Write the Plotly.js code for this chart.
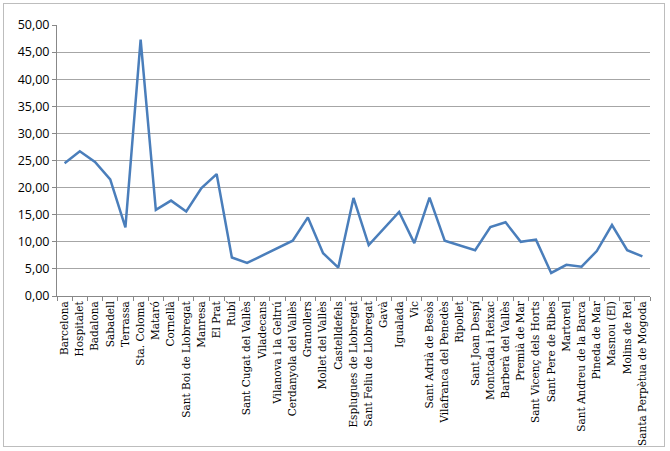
<!DOCTYPE html>
<html><head><meta charset="utf-8">
<script src="https://cdn.plot.ly/plotly-3.0.1.min.js"></script>
<style>
html,body{margin:0;padding:0;background:#fff;}
#frame{position:absolute;left:3px;top:3px;width:662px;height:444px;border:1px solid #bdbdbd;box-sizing:border-box;pointer-events:none;z-index:10;}
#chart{position:absolute;left:0;top:0;width:670px;height:451px;}
</style></head>
<body>
<div id="chart"></div>
<div id="frame"></div>
<script>
const municipis = ["Barcelona","Hospitalet","Badalona","Sabadell","Terrassa","Sta. Coloma","Mataró","Cornellà","Sant Boi de Llobregat","Manresa","El Prat","Rubí","Sant Cugat del Vallès","Viladecans","Vilanova i la Geltrú","Cerdanyola del Vallès","Granollers","Mollet del Vallès","Castelldefels","Esplugues de Llobregat","Sant Feliu de Llobregat","Gavà","Igualada","Vic","Sant Adrià de Besòs","Vilafranca del Penedès","Ripollet","Sant Joan Despí","Montcada i Reixac","Barberà del Vallès","Premià de Mar","Sant Vicenç dels Horts","Sant Pere de Ribes","Martorell","Sant Andreu de la Barca","Pineda de Mar","Masnou (El)","Molins de Rei","Santa Perpètua de Mogoda"];
const valors = [24.5,26.7,24.75,21.5,12.65,47.3,15.9,17.6,15.6,19.9,22.5,7.1,6.1,7.5,8.8,10.2,14.5,7.9,5.25,18.1,9.4,12.5,15.5,9.75,18.15,10.2,9.3,8.45,12.7,13.6,10.0,10.4,4.25,5.75,5.4,8.3,13.1,8.45,7.3];
const yTicks = [0,5,10,15,20,25,30,35,40,45,50];

Plotly.newPlot('chart', [{
  x: municipis, y: valors, type: 'scatter', mode: 'lines',
  line: {color: '#4a7ebb', width: 2.5}, hoverinfo: 'x+y'
}], {
  width: 670, height: 451,
  margin: {l: 57, r: 20, t: 25, b: 155, pad: 0},
  paper_bgcolor: '#fff', plot_bgcolor: '#fff',
  separators: ',.',
  showlegend: false,
  xaxis: {
    type: 'category', tickangle: -90, tickson: 'boundaries',
    range: [-0.5, municipis.length - 0.5],
    ticks: 'outside', ticklen: 4, tickcolor: '#888',
    showline: true, linecolor: '#888', linewidth: 1,
    showgrid: false, zeroline: false,
    tickfont: {family: 'DejaVu Serif, Liberation Serif, serif', size: 10.5, color: '#000'},
    automargin: false
  },
  yaxis: {
    range: [0, 50], tickvals: yTicks, tickformat: '.2f',
    ticks: 'outside', ticklen: 4, tickcolor: '#888',
    showline: true, linecolor: '#888', linewidth: 1,
    showgrid: true, gridcolor: '#a6a6a6', gridwidth: 1,
    zeroline: false,
    tickfont: {family: 'Open Sans, Liberation Sans, sans-serif', size: 12.5, color: '#000'},
    automargin: false
  }
}, {displayModeBar: false, staticPlot: true});
</script>
</body></html>
